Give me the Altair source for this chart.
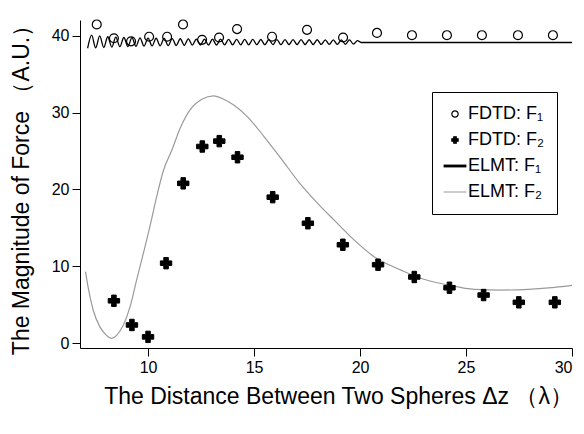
import altair as alt
import pandas as pd

# ---- data ----
series_names = ["FDTD: F₁", "FDTD: F₂", "ELMT: F₁", "ELMT: F₂"]

x_fdtd_f1 = [7.58, 8.39, 9.2, 10.05, 10.9, 11.65, 12.55, 13.35, 14.2, 15.85,
             17.5, 19.2, 20.8, 22.45, 24.1, 25.75, 27.45, 29.1]
y_fdtd_f1 = [41.5, 39.7, 39.3, 39.9, 39.9, 41.5, 39.5, 39.8, 40.9, 39.9,
             40.8, 39.8, 40.4, 40.1, 40.1, 40.1, 40.1, 40.1]

x_fdtd_f2 = [8.39, 9.24, 10.0, 10.85, 11.66, 12.56, 13.36, 14.22, 15.88, 17.54,
             19.19, 20.85, 22.56, 24.22, 25.83, 27.49, 29.19]
y_fdtd_f2 = [5.5, 2.35, 0.8, 10.4, 20.8, 25.6, 26.3, 24.2, 19.0, 15.6,
             12.8, 10.2, 8.6, 7.2, 6.25, 5.3, 5.3]

x_elmt_f1 = [7.15, 7.34, 7.53, 7.72, 7.91, 8.10, 8.29, 8.48, 8.67, 8.86,
             9.05, 9.24, 9.43, 9.62, 9.81, 10.00, 10.19, 10.38, 10.57, 10.76,
             10.95, 11.14, 11.33, 11.52, 11.71, 11.90, 12.09, 12.28, 12.47, 12.66,
             12.85, 13.04, 13.23, 13.42, 13.61, 13.80, 13.99, 14.18, 14.37, 14.56,
             14.75, 14.94, 15.13, 15.32, 15.51, 15.70, 15.89, 16.08, 16.27, 16.46,
             16.65, 16.84, 17.03, 17.22, 17.41, 17.60, 17.79, 17.98, 18.17, 18.36,
             18.55, 18.74, 18.93, 19.12, 19.31, 19.50, 19.69, 19.88, 20.05, 30.0]
y_elmt_f1 = [38.4, 40.1, 38.45, 40.0, 38.5, 39.9, 38.55, 39.85, 38.6, 39.8,
             38.62, 39.78, 38.65, 39.75, 38.68, 39.72, 38.7, 39.7, 38.72, 39.68,
             38.74, 39.66, 38.76, 39.64, 38.78, 39.62, 38.8, 39.6, 38.8, 39.6,
             38.82, 39.58, 38.82, 39.58, 38.84, 39.56, 38.84, 39.56, 38.85, 39.55,
             38.85, 39.55, 38.86, 39.54, 38.86, 39.54, 38.87, 39.53, 38.87, 39.53,
             38.88, 39.52, 38.88, 39.52, 38.89, 39.51, 38.89, 39.51, 38.9, 39.5,
             38.9, 39.5, 38.9, 39.5, 38.92, 39.48, 38.95, 39.4, 39.15, 39.15]

x_elmt_f2 = [7.05, 7.17, 7.41, 7.73, 8.04, 8.28, 8.52, 8.83, 9.15, 9.46,
             9.78, 10.09, 10.41, 10.73, 11.12, 11.52, 11.99, 12.54, 13.09, 13.57,
             14.04, 14.68, 15.47, 16.26, 17.1, 18.0, 18.78, 19.73, 20.68, 21.94,
             22.89, 24.16, 25.4, 26.68, 27.95, 29.2, 30.0]
y_elmt_f2 = [9.3, 7.3, 4.3, 2.1, 1.0, 0.6, 1.0, 2.3, 4.7, 8.2,
             11.7, 15.2, 19.1, 22.5, 25.1, 28.0, 30.4, 31.75, 32.2, 31.75,
             31.0, 29.5, 26.9, 24.1, 21.0, 18.2, 16.0, 13.4, 11.2, 9.5,
             8.4, 7.56, 7.0, 6.9, 7.0, 7.25, 7.5]

x_ticks = [10, 15, 20, 25, 30]
y_ticks = [0, 10, 20, 30, 40]

GRAY = "#9a9a9a"
# legend swatch shapes (thick black bar, thin gray bar) for the ELMT lines
THICK_BAR = "M-3.6,-0.45L3.6,-0.45L3.6,0.45L-3.6,0.45Z"
THIN_BAR = "M-3.6,-0.16L3.6,-0.16L3.6,0.16L-3.6,0.16Z"

# ---- tables ----
p1 = pd.DataFrame({"x": x_fdtd_f1, "y": y_fdtd_f1, "series": series_names[0]})
p2 = pd.DataFrame({"x": x_fdtd_f2, "y": y_fdtd_f2, "series": series_names[1]})
l1 = pd.DataFrame({"x": x_elmt_f1, "y": y_elmt_f1})
l2 = pd.DataFrame({"x": x_elmt_f2, "y": y_elmt_f2})

FONT = "Liberation Sans"
xs = alt.Scale(domain=[6.79, 30], nice=False, zero=False)
ys = alt.Scale(domain=[-0.65, 42.08], nice=False, zero=False)

X = alt.X("x:Q", scale=xs, axis=alt.Axis(
    values=x_ticks, title="The Distance Between Two Spheres Δz （λ）",
    grid=False, tickSize=8, labelPadding=3, titlePadding=10, titleX=258))
Y = alt.Y("y:Q", scale=ys, axis=alt.Axis(
    values=y_ticks, title="The Magnitude of Force （A.U.）",
    grid=False, tickSize=8, labelPadding=3, titlePadding=18))

legend = alt.Legend(
    title=None, orient="none", legendX=352, legendY=72,
    strokeColor="black", fillColor="white", padding=13,
    labelFontSize=18, labelFont=FONT, labelColor="black",
    rowPadding=8, labelOffset=4, symbolOffset=1,
    symbolSize=40, symbolStrokeWidth=1.2, symbolOpacity=1,
)

dom = series_names
SHAPE = alt.Shape("series:N", scale=alt.Scale(
    domain=dom, range=["circle", "cross", THICK_BAR, THIN_BAR]), legend=legend)
FILL = alt.Fill("series:N", scale=alt.Scale(
    domain=dom, range=["transparent", "black", "black", GRAY]), legend=legend)
STROKE = alt.Stroke("series:N", scale=alt.Scale(
    domain=dom, range=["black", "black", "transparent", "transparent"]), legend=legend)

circles = alt.Chart(p1).mark_point(opacity=1, strokeWidth=1.2, size=80).encode(
    x=X, y=Y, shape=SHAPE, fill=FILL, stroke=STROKE)
crosses = alt.Chart(p2).mark_point(opacity=1, strokeWidth=1, size=130).encode(
    x=X, y=Y, shape=SHAPE, fill=FILL, stroke=STROKE)

line1 = alt.Chart(l1).mark_line(interpolate="monotone", strokeWidth=1.3,
                                color="black").encode(x=X, y=Y)
line2 = alt.Chart(l2).mark_line(interpolate="monotone", strokeWidth=1.2,
                                color=GRAY).encode(x=X, y=Y)

chart = alt.layer(line2, line1, circles, crosses).properties(
    width=492, height=328,
    autosize=alt.AutoSizeParams(type="none"),
    padding={"left": 72, "top": 12, "right": 4, "bottom": 78},
).configure_view(stroke=None).configure_axis(
    domainColor="black", tickColor="black", labelColor="black", titleColor="black",
    labelFont=FONT, titleFont=FONT, labelFontSize=16, titleFontSize=23,
    titleFontWeight="normal", domainWidth=1, tickWidth=1,
)

chart.save("out.html", embed_options={"renderer": "svg", "actions": False})
